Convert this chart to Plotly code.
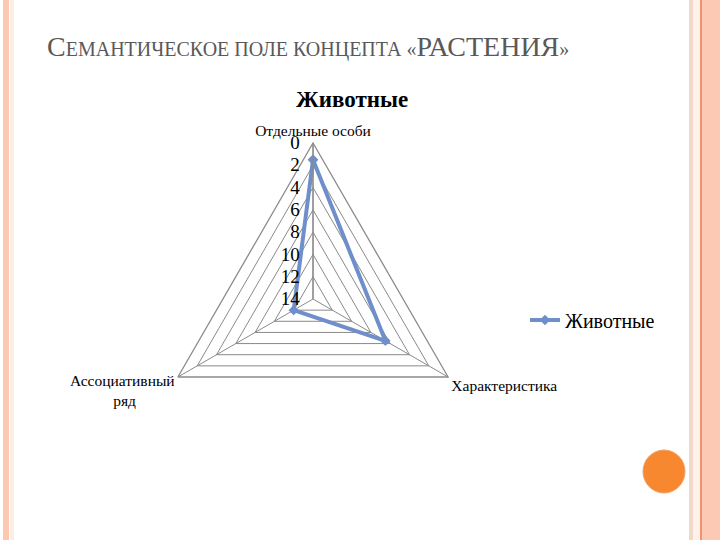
import plotly.graph_objects as go

# ---- data ----
categories = ["Отдельные особи", "Характеристика",
              "Ассоциативный<br>ряд\u00a0\u00a0\u00a0\u00a0\u00a0\u00a0\u00a0\u00a0\u00a0\u00a0"]
values = [1.5, 6.5, 12]
series_name = "Животные"
radial_ticks = [0, 2, 4, 6, 8, 10, 12, 14]

W, H = 720, 540
SERIF = "Liberation Serif"
LINE = "#6f8fca"
GRID = "#8a8a8a"

fig = go.Figure()
fig.add_trace(go.Scatterpolar(
    r=values + values[:1],
    theta=categories + categories[:1],
    mode="lines+markers",
    name=series_name,
    line=dict(color=LINE, width=4),
    marker=dict(symbol="diamond", size=8, color=LINE),
    showlegend=True,
))

def px(x):
    return x / W

def py(y):
    return 1 - y / H

# slide decoration (borders and orange circle)
shapes = [
    dict(type="rect", xref="paper", yref="paper", x0=px(3), x1=px(9), y0=0, y1=1,
         fillcolor="#fcc8b2", line_width=0, layer="below"),
    dict(type="rect", xref="paper", yref="paper", x0=px(10), x1=px(14), y0=0, y1=1,
         fillcolor="#fdeee4", line_width=0, layer="below"),
    dict(type="rect", xref="paper", yref="paper", x0=px(689), x1=px(693), y0=0, y1=1,
         fillcolor="#f1d8c9", line_width=0, layer="below"),
    dict(type="rect", xref="paper", yref="paper", x0=px(693), x1=px(700), y0=0, y1=1,
         fillcolor="#fdf2ea", line_width=0, layer="below"),
    dict(type="rect", xref="paper", yref="paper", x0=px(700), x1=px(702), y0=0, y1=1,
         fillcolor="#f19272", line_width=0, layer="below"),
    dict(type="rect", xref="paper", yref="paper", x0=px(702), x1=px(720), y0=0, y1=1,
         fillcolor="#fcc9b4", line_width=0, layer="below"),
    dict(type="circle", xref="paper", yref="paper", x0=px(643), x1=px(685),
         y0=py(493), y1=py(450), fillcolor="#f7882f", line=dict(color="#f5a064", width=1)),
]

title_html = ("<span style='font-size:28px'>С</span>ЕМАНТИЧЕСКОЕ ПОЛЕ КОНЦЕПТА «"
              "<span style='font-size:28px'>РАСТЕНИЯ</span>»")

annotations = [
    dict(text=title_html, xref="paper", yref="paper", x=px(45), y=py(64),
         xanchor="left", yanchor="bottom", showarrow=False,
         font=dict(family=SERIF, size=20, color="#595959")),
    dict(text="<b>Животные</b>", xref="paper", yref="paper", x=px(352), y=py(100),
         xanchor="center", yanchor="middle", showarrow=False,
         font=dict(family=SERIF, size=23, color="#000000")),
]

fig.update_layout(
    width=W, height=H,
    margin=dict(l=0, r=0, t=0, b=0),
    paper_bgcolor="white",
    plot_bgcolor="white",
    font=dict(family=SERIF),
    shapes=shapes,
    annotations=annotations,
    showlegend=True,
    legend=dict(x=px(525), y=py(320), xanchor="left", yanchor="middle",
                font=dict(family=SERIF, size=20, color="#000"),
                bgcolor="rgba(0,0,0,0)", itemwidth=30),
    polar=dict(
        domain=dict(x=[px(157), px(469)], y=[py(455), py(143)]),
        bgcolor="white",
        gridshape="linear",
        angularaxis=dict(
            rotation=90, direction="clockwise",
            showline=True, linecolor=GRID, linewidth=1.3,
            gridcolor=GRID, gridwidth=1.3,
            ticks="", tickfont=dict(family=SERIF, size=15.5, color="#000"),
        ),
        radialaxis=dict(
            range=[14, 0], angle=90, side="counterclockwise",
            tickvals=radial_ticks, ticktext=[str(v) for v in radial_ticks],
            showline=True, linecolor=GRID, linewidth=1.3,
            gridcolor=GRID, gridwidth=1.3,
            ticks="outside", ticklen=6, tickcolor="rgba(0,0,0,0)", tickangle=90,
            tickfont=dict(family=SERIF, size=19, color="#000"),
        ),
    ),
)

fig.write_html("out.html", config={"displayModeBar": False},
               post_script="document.body.style.margin='0px';")
